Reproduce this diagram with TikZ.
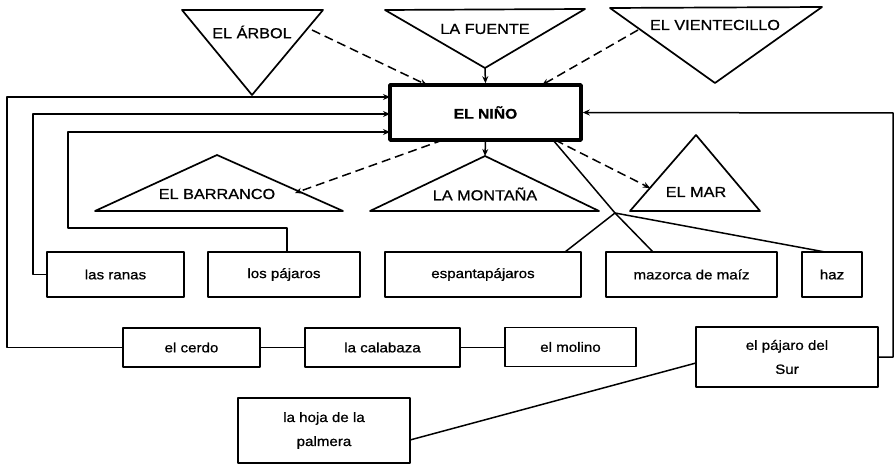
\documentclass[tikz,border=0pt]{standalone}
\usepackage{fontspec}
\setmainfont[FakeStretch=1.12,FakeBold=0.8]{Liberation Sans}
\usetikzlibrary{arrows.meta,calc}
\begin{document}
\begin{tikzpicture}[x=1pt,y=-1pt,
  line join=round,
  conn/.style={line width=1.5pt},
  arr/.style={line width=1.5pt,-{Stealth[length=7pt,width=6pt]}},
  darr/.style={line width=1.5pt,dash pattern=on 9pt off 5pt,-{Stealth[length=7pt,width=6pt]}},
  tri/.style={line width=1.7pt},
  box/.style={draw,line width=1.7pt,inner sep=0pt,align=center,font=\fontsize{13.5}{24}\selectfont},
  bigbox/.style={draw,line width=3.5pt,inner sep=0pt,font=\fontsize{14}{17}\selectfont\bfseries},
  lab/.style={inner sep=0pt,font=\fontsize{14.5}{17}\selectfont}]
\useasboundingbox (0,0) rectangle (895,465);

% central box
\node[bigbox,minimum width=191pt,minimum height=55pt] (nino) at (485.5,112.5) {EL NIÑO};

% triangles
\draw[tri] (182,10) -- (323,10) -- (252,95) -- cycle;
\node[lab] (arbol) at (252,32) {EL ÁRBOL};
\draw[tri] (385,10) -- (585,9) -- (485,68) -- cycle;
\node[lab] (fuente) at (485,29) {LA FUENTE};
\draw[tri] (610,8) -- (822,7) -- (715,83) -- cycle;
\node[lab] (viento) at (715,25) {EL VIENTECILLO};
\draw[tri] (95,211) -- (343,211) -- (217,155) -- cycle;
\node[lab] (barranco) at (217,194) {EL BARRANCO};
\draw[tri] (370,211) -- (599,211) -- (485,156) -- cycle;
\node[lab] (montana) at (485,194) {LA MONTAÑA};
\draw[tri] (630,211) -- (760,211) -- (696,135) -- cycle;
\node[lab] (mar) at (696,192) {EL MAR};

% boxes
\node[box,minimum width=137pt,minimum height=45pt] (ranas) at (115.5,274.5) {las ranas};
\node[box,minimum width=152pt,minimum height=45pt] (pajaros) at (284,274.5) {los pájaros};
\node[box,minimum width=196pt,minimum height=45pt] (espanta) at (483,274.5) {espantapájaros};
\node[box,minimum width=171pt,minimum height=45pt] (mazorca) at (691.5,274.5) {mazorca de maíz};
\node[box,minimum width=60pt,minimum height=45pt] (haz) at (832,274.5) {haz};
\node[box,minimum width=137pt,minimum height=39pt] (cerdo) at (191.5,347.5) {el cerdo};
\node[box,minimum width=155pt,minimum height=39pt] (calabaza) at (382.5,347.5) {la calabaza};
\node[box,minimum width=131pt,minimum height=39pt] (molino) at (570.5,347) {el molino};
\node[box,minimum width=182pt,minimum height=60pt] (sur) at (787,357) {el pájaro del\\Sur};
\node[box,minimum width=172pt,minimum height=65pt] (hoja) at (324,430.5) {la hoja de la\\palmera};

% named points
\coordinate (arbolR) at (312,30);
\coordinate (fuenteApex) at (485,68);
\coordinate (vientoL) at (638,30);
\coordinate (ninoT1) at (427,85);
\coordinate (ninoT2) at (542,85);
\coordinate (ninoB1) at (443,140);
\coordinate (ninoB2) at (555,140);
\coordinate (ninoB3) at (553,140);
\coordinate (barrancoR) at (295,193);
\coordinate (montanaApex) at (485,156);
\coordinate (marL) at (650,188);
\coordinate (J) at (615,213);
\coordinate (espantaT) at (565,252);
\coordinate (mazorcaT) at (653,252);
\coordinate (hazT) at (825,252);
\coordinate (pajarosT) at (287,252);
\coordinate (hojaR) at (410,440);
\coordinate (surL) at (696,363);

% dashed influences
\draw[darr] (arbolR) -- (ninoT1);
\draw[darr] (vientoL) -- (ninoT2);
\draw[darr] (ninoB1) -- (barrancoR);
\draw[darr] (ninoB2) -- (marL);

% solid arrows
\draw[arr] (fuenteApex) -- (nino.north);
\draw[arr] (nino.south) -- (montanaApex);
\draw[arr] (cerdo.west) -- (7,347.5) -- (7,97) -- (390,97);
\draw[arr] (ranas.west) -- (33,274.5) -- (33,114) -- (390,114);
\draw[arr] (pajarosT) -- (287,228) -- (68,228) -- (68,132) -- (390,132);
\draw[arr] (sur.east) -- (893,357) -- (893,113) -- (nino.east);

% plain lines
\draw[conn] (ninoB3) -- (J) -- (mazorcaT);
\draw[conn] (espantaT) -- (J) -- (hazT);
\draw[conn] (cerdo.east) -- (calabaza.west);
\draw[conn] (calabaza.east) -- (molino.west |- calabaza.east);
\draw[conn] (hojaR) -- (surL);
\end{tikzpicture}
\end{document}
